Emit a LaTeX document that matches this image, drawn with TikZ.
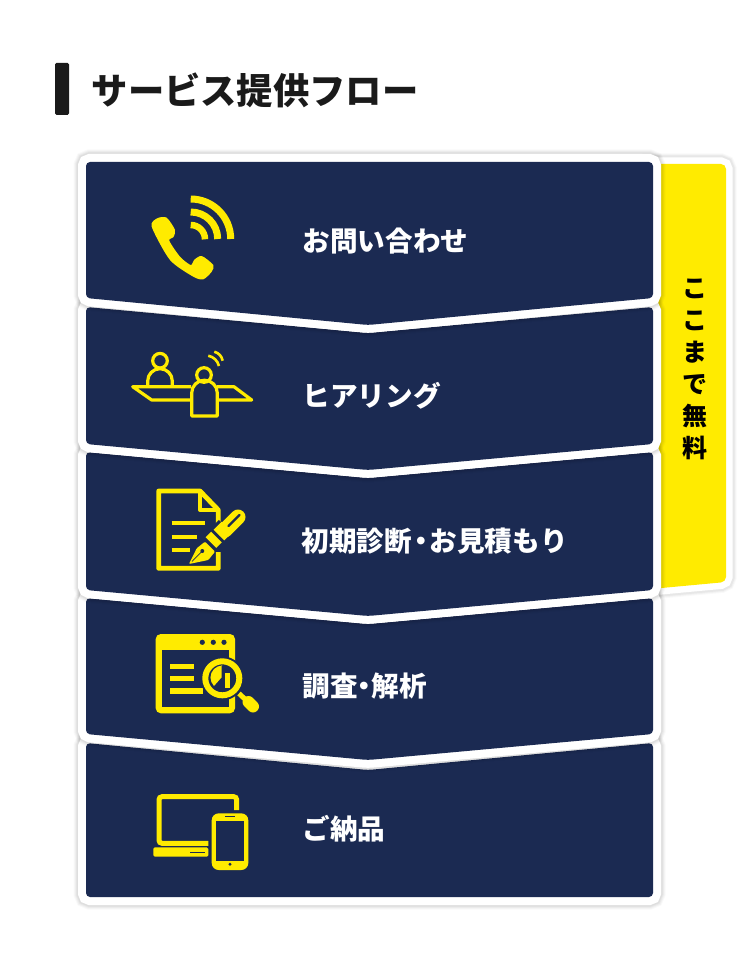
\documentclass[tikz,border=0pt]{standalone}
\usepackage{fontspec}
\usepackage{xcolor}
\usepackage{tikz}
\newfontfamily\jpfont{Noto Sans CJK JP}
\definecolor{navy}{HTML}{1B2A52}
\definecolor{signal}{HTML}{FFEB00}
\definecolor{inkbar}{HTML}{1A1A1A}
\tikzset{
    panel/.style={fill=navy, rounded corners=4pt, line join=round,
        preaction={draw=black, draw opacity=0.025, line width=25pt},
        preaction={draw=black, draw opacity=0.03, line width=23pt},
        preaction={draw=black, draw opacity=0.035, line width=21pt},
        preaction={draw=black, draw opacity=0.04, line width=19pt},
        preaction={draw=white, line width=16pt}},
    flag/.style={fill=signal, rounded corners=5pt, line join=round,
        preaction={draw=black, draw opacity=0.025, line width=21pt},
        preaction={draw=black, draw opacity=0.03, line width=19pt},
        preaction={draw=black, draw opacity=0.04, line width=17pt},
        preaction={draw=white, line width=13pt}},
    steplabel/.style={right, inner sep=0pt, text=white, font=\jpfont\bfseries\fontsize{27.6}{32}\selectfont},
    icon/.style={draw=signal, line width=3.2pt},
    iconfill/.style={fill=signal},
    cutout/.style={fill=navy}
}
\begin{document}
\begin{tikzpicture}[x=1pt, y=-1pt]
                \useasboundingbox [fill=white] (0,0) rectangle (748,960);
                % heading
                \fill [inkbar, rounded corners=1.5pt] (55,63) rectangle (69,115);
                \node (heading) [right, inner sep=0pt, text=inkbar, font=\jpfont\bfseries\fontsize{36.3}{42}\selectfont] at (91.5,90) {サービス提供フロー};
                % free part tab
                \path [flag] (640,164) -- (726,164) -- (726,582) -- (640,590) -- cycle;
                \node (freetab) [inner sep=0pt, text width=29pt, align=center, text=black, font=\jpfont\bfseries\fontsize{25}{32}\selectfont] at (694.5,369) {\XeTeXlinebreaklocale "ja"\XeTeXlinebreakskip=0pt plus 1pt ここまで無料};
                % panels, last one first
                \path [panel] (86,743) -- (368,770) -- (653,743) -- (653,897) -- (86,897) -- cycle;
                \path [panel] (86,598) -- (368,624) -- (653,598) -- (653,734) -- (368,760) -- (86,734) -- cycle;
                \path [panel] (86,452) -- (368,478) -- (653,452) -- (653,590) -- (368,616) -- (86,590) -- cycle;
                \path [panel] (86,307) -- (368,333) -- (653,307) -- (653,444) -- (368,470) -- (86,444) -- cycle;
                \path [panel] (86,162) -- (653,162) -- (653,298) -- (368,325) -- (86,298) -- cycle;
                \node (inquiry) [steplabel] at (302.5,241) {お問い合わせ};
                \node (hearing) [steplabel] at (302.5,396) {ヒアリング};
                \node (diagnosis) [steplabel] at (301.5,541) {初期診断\hspace{-5pt}・\hspace{-5pt}お見積もり};
                \node (research) [steplabel] at (302.5,686) {調査\hspace{-7pt}・\hspace{-7pt}解析};
                \node (delivery) [steplabel] at (302.5,829) {ご納品};
                % phone
                \fill [iconfill] plot [smooth cycle, tension=0.45] coordinates {(151.7,226.7) (157.3,218.3) (166.7,217.7) (175,230) (173.3,237.3) (169.3,240.7) (180,256.7) (190.7,265) (194,260) (201.7,256) (213.3,265) (211.7,271.7) (203.3,279.3) (193.3,276.7) (170,260)};
                \draw [signal, line width=7pt] (190.7,199) arc [start angle=90, end angle=0, radius=40pt];
                \draw [signal, line width=7pt] (190.7,212) arc [start angle=90, end angle=0, radius=27pt];
                \draw [signal, line width=6.5pt] (190.7,225) arc [start angle=90, end angle=0, radius=14.3pt];
                % two people at a table
                \draw [icon, line join=round] (160,360.7) circle [radius=7.3pt];
                \draw [icon, line join=round] (147.7,386.7) -- (147.7,381) arc [start angle=180, end angle=0, radius=12.3pt] -- (172.3,386.7);
                \draw [icon, line join=round] (191,386.7) -- (132.7,386.7) -- (151.7,400) -- (191,400);
                \draw [icon, line join=round] (216.7,386.7) -- (234,386.7) -- (251.7,400) -- (216.7,400);
                \draw [icon] (204,375) circle [radius=7.3pt];
                \draw [icon, line join=round] (191.7,416) -- (191.7,393) arc [start angle=180, end angle=0, radius=12.8pt] -- (217.3,416) -- cycle;
                \draw [signal, line width=2.6pt] (208.3,355.7) to [bend left=30] (219,366);
                \draw [signal, line width=2.6pt] (214.3,351.7) to [bend left=30] (222.7,360.7);
                % document and pen
                \draw [icon, line width=4.8pt, line join=round] (218.3,525) -- (218.3,510) -- (200,491) -- (158.7,491) -- (158.7,568.3) -- (218.3,568.3) -- (218.3,552);
                \draw [icon, line width=4pt, line join=round] (200,491) -- (200,510) -- (218.3,510);
                \draw [icon, line width=4pt] (171.7,523.3) -- (205,523.3);
                \draw [icon, line width=4pt] (171.7,536.7) -- (196.7,536.7);
                \draw [icon, line width=4pt] (171.7,550) -- (190,550);
                \draw [navy, line width=20pt] (212,541) -- (226,527);
                \draw [signal, line width=15pt, line cap=round] (225,530) -- (238,517);
                \draw [signal, line width=15pt] (219,535) -- (227,527);
                \draw [navy, line width=2.2pt, line cap=round] (228.5,526) -- (239.5,515);
                \draw [signal, line width=15pt] (211,542.5) -- (216.5,537);
                \fill [iconfill, rounded corners=1pt] (189,564) -- (196.7,548.3) -- (205,541.7) -- (215,551.7) -- (208.3,560) -- cycle;
                \fill [cutout] (202.3,551) circle [radius=2pt];
                \draw [navy, line width=0.7pt] (202.3,551) -- (192,561.5);
                % browser with magnifier
                \fill [iconfill, rounded corners=5pt] (155.7,634) rectangle (235,713.3);
                \fill [cutout] (161.7,650) rectangle (229,706.7);
                \fill [cutout] (202.3,642.3) circle [radius=2.6pt];
                \fill [cutout] (213.3,642.3) circle [radius=2.6pt];
                \fill [cutout] (224,642.3) circle [radius=2.6pt];
                \draw [signal, line width=5.5pt] (170,666.7) -- (194,666.7);
                \draw [signal, line width=5.5pt] (170,678.3) -- (194,678.3);
                \draw [signal, line width=5.5pt] (170,691) -- (203,691);
                \fill [cutout] (222.3,678.3) circle [radius=22pt];
                \draw [navy, line width=7pt] (241,695) -- (250,704);
                \draw [signal, line width=6pt] (222.3,678.3) circle [radius=17pt];
                \fill [iconfill] (221.5,665) -- (221.5,677.5) -- (214,686) arc [start angle=225, end angle=90, radius=12pt] -- cycle;
                \fill [iconfill] (224.5,673) -- (230,673) -- (230,688) -- (224.5,688) -- cycle;
                \draw [signal, line width=5pt] (239,693.5) -- (247,701);
                \draw [signal, line width=12pt, line cap=round] (248.5,702) -- (253,706.5);
                % laptop and phone
                \draw [signal, line width=5pt, rounded corners=3pt] (208.3,843.3) -- (159,843.3) -- (159,796.7) -- (236.7,796.7) -- (236.7,810);
                \fill [iconfill, rounded corners=1.5pt] (153.3,847.3) rectangle (208.3,856.7);
                \draw [navy, line width=1.2pt] (190,852.3) -- (205,852.3);
                \fill [iconfill, rounded corners=7pt] (211.7,813.3) rectangle (248.3,870);
                \fill [cutout] (216,820.7) rectangle (244.3,861);
                \draw [navy, line width=1.2pt] (225,816.3) -- (235,816.3);
                \fill [cutout] (230,864.3) circle [radius=1.6pt];
            \end{tikzpicture}
\end{document}
